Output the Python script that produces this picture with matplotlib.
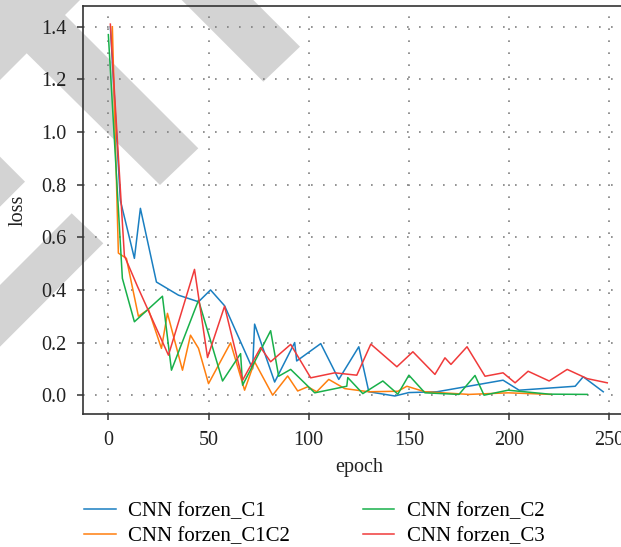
import matplotlib
matplotlib.use("Agg")
import matplotlib.pyplot as plt
from matplotlib.patches import Polygon

# ---- data ----
c1_x = [1, 6, 13, 16, 24, 35, 45, 51, 58, 72, 73, 83, 93, 94, 106, 115, 125, 130, 143, 150, 164, 197, 205, 233, 237, 247]
c1_y = [1.40, 0.74, 0.52, 0.71, 0.43, 0.38, 0.355, 0.40, 0.34, 0.10, 0.27, 0.05, 0.20, 0.13, 0.196, 0.06, 0.184, 0.013, -0.003, 0.010, 0.013, 0.057, 0.019, 0.034, 0.07, 0.013]

c1c2_x = [2, 5, 9, 15, 20, 26.5, 29.5, 37, 41, 45, 50, 61, 68, 73, 82, 89.5, 94.5, 99.5, 104, 110, 118, 130, 144.5, 149, 158, 180, 199.5, 221]
c1c2_y = [1.40, 0.54, 0.52, 0.30, 0.326, 0.178, 0.311, 0.095, 0.228, 0.178, 0.044, 0.199, 0.019, 0.127, 0.0, 0.073, 0.016, 0.032, 0.013, 0.06, 0.025, 0.013, 0.015, 0.034, 0.013, 0.003, 0.009, 0.003]

c2_x = [0, 7, 13, 27, 31.5, 45, 57, 66, 67, 81, 85, 91, 103, 119, 119.5, 127, 137, 144.5, 150, 158, 175, 183, 187.5, 199.5, 220, 239]
c2_y = [1.37, 0.444, 0.279, 0.376, 0.095, 0.361, 0.054, 0.158, 0.038, 0.245, 0.072, 0.098, 0.009, 0.034, 0.067, 0.006, 0.054, 0.004, 0.076, 0.009, 0.003, 0.075, 0.0, 0.019, 0.004, 0.003]

c3_x = [1, 8, 14.5, 30, 43, 49.5, 58, 67, 76, 81, 91, 101, 113, 124, 131, 144, 152, 163, 168, 171, 179, 188, 197, 203, 209.5, 220, 229, 239, 249]
c3_y = [1.41, 0.53, 0.414, 0.152, 0.478, 0.143, 0.338, 0.057, 0.181, 0.127, 0.193, 0.066, 0.085, 0.076, 0.194, 0.108, 0.165, 0.079, 0.142, 0.117, 0.184, 0.072, 0.085, 0.047, 0.091, 0.054, 0.098, 0.063, 0.047]

labels = ["CNN forzen_C1", "CNN forzen_C1C2", "CNN forzen_C2", "CNN forzen_C3"]
colors = ["#1a7fc1", "#ff7f0e", "#18b04a", "#f03a3a"]
x_ticks = [0, 50, 100, 150, 200, 250]
y_ticks = [0.0, 0.2, 0.4, 0.6, 0.8, 1.0, 1.2, 1.4]

plt.rcParams['font.family'] = ['Liberation Serif', 'DejaVu Serif']
plt.rcParams['font.size'] = 14.5

W, H = 621, 547
fig = plt.figure(figsize=(W / 100, H / 100), dpi=100, facecolor='white')

# watermark stripes (figure pixel coords, y downward)
stripes = [
    [(181.7, 0), (253.3, 0), (300, 46.7), (263.3, 81.7)],
    [(0, 0), (80, 0), (65, 15), (198.3, 148.3), (160, 185), (26.7, 53.3), (0, 80)],
    [(0, 156.7), (25, 181.7), (0, 206.7)],
    [(0, 285), (71.7, 213.3), (103.3, 243.3), (0, 346.7)],
]
for poly in stripes:
    pts = [(x / W, 1 - y / H) for x, y in poly]
    fig.add_artist(Polygon(pts, closed=True, facecolor='#d3d3d3', edgecolor='none',
                           transform=fig.transFigure, zorder=-5))

ax = fig.add_axes([83.3 / W, 1 - 414.3 / H, 551 / W, 408.6 / H])
ax.set_facecolor('none')

series = [(c1_x, c1_y), (c1c2_x, c1c2_y), (c2_x, c2_y), (c3_x, c3_y)]
for (xs, ys), lab, col in zip(series, labels, colors):
    ax.plot(xs, ys, color=col, lw=1.1, label=lab)

ax.set_xlim(-12.5, 262.5)
ax.set_ylim(-0.0726, 1.48)
ax.set_xticks(x_ticks)
ax.set_yticks(y_ticks)
ax.set_yticklabels([f"{v:.1f}" for v in y_ticks])
ax.grid(True, color='#808080', lw=1.2, linestyle=(0, (1, 6.2)))
ax.set_axisbelow(True)
for s in ax.spines.values():
    s.set_color('#333333')
    s.set_linewidth(1.2)
ax.tick_params(direction='out', length=4, width=1.1, color='#333333', labelcolor='#222222', pad=8)
ax.set_xlabel('epoch', labelpad=6, color='#222222')
ax.set_ylabel('loss', labelpad=10, color='#222222')

handles, labs = ax.get_legend_handles_labels()
fig.legend(handles, labs, loc='upper left', bbox_to_anchor=(76 / W, 1 - 493 / H),
           ncol=2, frameon=False, handlelength=1.5, handletextpad=0.6,
           columnspacing=3.5, labelspacing=0.26, fontsize=15, borderaxespad=0)

fig.savefig('out.png', dpi=100)
